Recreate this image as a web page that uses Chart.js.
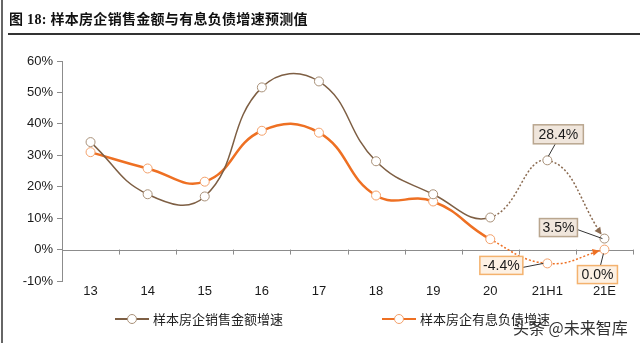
<!DOCTYPE html>
<html>
<head>
<meta charset="utf-8">
<script src="https://cdn.jsdelivr.net/npm/chart.js@4.4.1/dist/chart.umd.min.js"></script>
<style>
  html, body { margin: 0; padding: 0; background: #fff; }
  body { width: 640px; height: 343px; position: relative; overflow: hidden; }
  #wrap { position: absolute; left: 0; top: 0; width: 640px; height: 343px; }
  #title { position: absolute; left: 9px; top: 8px; font: bold 14px "Liberation Serif", "Noto Sans CJK SC", serif; color: #111; white-space: nowrap; letter-spacing: 0.3px; }
  #rule { position: absolute; left: 8px; right: 0; top: 33px; height: 2px; background: #333; }
  #lborder { position: absolute; left: 1px; top: 0; bottom: 0; width: 2px; background: #666; }
  .leg { position: absolute; top: 309px; font: 13px "Noto Sans CJK SC", sans-serif; color: #222; white-space: nowrap; }
  .leg .ln { position: absolute; top: 9px; width: 34px; height: 2px; }
  .leg .dot { position: absolute; top: 5px; width: 8px; height: 8px; border-radius: 50%; background: #fff; border: 1px solid; }
  .leg .tx { position: absolute; left: 38px; top: 0; }
  #wm { position: absolute; left: 513px; top: 315px; font: 16px "Noto Sans CJK SC", sans-serif; color: #333; white-space: nowrap; }
</style>
</head>
<body>
<div id="wrap"><canvas id="c" width="640" height="343"></canvas></div>
<div id="lborder"></div>
<div id="title">图 18: 样本房企销售金额与有息负债增速预测值</div>
<div id="rule"></div>
<div class="leg" id="leg1" style="left:115px;"><span class="ln"></span><span class="dot"></span><span class="tx"></span></div>
<div class="leg" id="leg2" style="left:382px;"><span class="ln"></span><span class="dot"></span><span class="tx"></span></div>
<div id="wm">头条 @未来智库</div>
<script>
// ---- data ----
const categories = ['13', '14', '15', '16', '17', '18', '19', '20', '21H1', '21E'];
const salesGrowth = [34.2, 17.6, 16.9, 51.6, 53.5, 28.1, 17.6, 10.2, 28.4, 3.5];
const debtGrowth  = [31.0, 25.8, 21.6, 37.8, 37.2, 17.2, 15.3, 3.3, -4.4, 0.0];
const seriesNames = ['样本房企销售金额增速', '样本房企有息负债增速'];
const yTicks = [-10, 0, 10, 20, 30, 40, 50, 60];
const forecastStart = 7; // segments from index 7 onward are dotted

const BROWN = '#7e5f44', BROWN_PT = '#a89078';
const ORANGE = '#ee7023', ORANGE_PT = '#f3a06a';

// legend
[['leg1', BROWN, BROWN_PT, seriesNames[0]], ['leg2', ORANGE, ORANGE_PT, seriesNames[1]]].forEach(([id, c, pc, t]) => {
  const el = document.getElementById(id);
  el.querySelector('.ln').style.background = c;
  const d = el.querySelector('.dot'); d.style.borderColor = pc; d.style.left = '12px';
  el.querySelector('.tx').textContent = t;
});

const dotted = (w) => ({
  borderDash: ctx => ctx.p0DataIndex >= forecastStart ? [2, 2] : undefined,
  borderWidth: ctx => ctx.p0DataIndex >= forecastStart ? 1.5 : w
});

// annotation boxes
const annots = [
  {ds: 0, i: 8, dx: 11, dy: -26, w: 50, h: 19, fill: '#f0e6dc', stroke: '#b9a68f', lf: [-3, 9.5], lt: [1, -4]},
  {ds: 0, i: 9, dx: -46, dy: -11, w: 38, h: 18, fill: '#f0e6dc', stroke: '#b9a68f', lf: [19, 2], lt: [-2, 0]},
  {ds: 1, i: 8, dx: -46, dy: 2, w: 43, h: 18, fill: '#fdf1e4', stroke: '#f4b26e', lf: [21.5, 2], lt: [-4, 0]},
  {ds: 1, i: 9, dx: -7, dy: 25, w: 40, h: 18, fill: '#fdf1e4', stroke: '#f4b26e', lf: [3, -9], lt: [-1, 4]},
];

const overlay = {
  id: 'overlay',
  beforeDatasetsDraw(chart) {
    const {ctx, chartArea: a, scales: {x, y}} = chart;
    const y0 = y.getPixelForValue(0);
    ctx.save();
    ctx.strokeStyle = '#8c8c8c';
    ctx.lineWidth = 1;
    ctx.beginPath();
    ctx.moveTo(a.left, Math.round(y0) + 0.5);
    ctx.lineTo(a.right, Math.round(y0) + 0.5);
    const n = categories.length;
    for (let k = 1; k <= n; k++) {
      const xx = Math.round(a.left + k * (a.right - a.left) / n) + 0.5;
      ctx.moveTo(xx, y0);
      ctx.lineTo(xx, y0 + 5);
    }
    ctx.stroke();
    ctx.restore();
  },
  afterDatasetsDraw(chart) {
    const {ctx} = chart;
    ctx.save();
    [[0, '#8a6a50'], [1, ORANGE]].forEach(([di, col]) => {
      const p = chart.getDatasetMeta(di).data[categories.length - 1];
      let vx = p.x - p.cp1x, vy = p.y - p.cp1y;
      const L = Math.hypot(vx, vy) || 1; vx /= L; vy /= L;
      const tx = p.x - vx * 5, ty = p.y - vy * 5;
      const bx = tx - vx * 7, by = ty - vy * 7;
      ctx.fillStyle = col;
      ctx.beginPath();
      ctx.moveTo(tx, ty);
      ctx.lineTo(bx - vy * 3.5, by + vx * 3.5);
      ctx.lineTo(bx + vy * 3.5, by - vx * 3.5);
      ctx.closePath();
      ctx.fill();
    });
    annots.forEach(an => {
      const p = chart.getDatasetMeta(an.ds).data[an.i];
      const val = chart.data.datasets[an.ds].data[an.i];
      const cx = p.x + an.dx, cy = p.y + an.dy;
      ctx.strokeStyle = '#333';
      ctx.lineWidth = 1;
      ctx.beginPath();
      ctx.moveTo(cx + an.lf[0], cy + an.lf[1]);
      ctx.lineTo(p.x + an.lt[0], p.y + an.lt[1]);
      ctx.stroke();
      ctx.fillStyle = an.fill;
      ctx.strokeStyle = an.stroke;
      ctx.lineWidth = 1.5;
      ctx.fillRect(cx - an.w / 2, cy - an.h / 2, an.w, an.h);
      ctx.strokeRect(cx - an.w / 2, cy - an.h / 2, an.w, an.h);
      ctx.fillStyle = '#1a1a1a';
      ctx.font = '14px "Liberation Sans", Arial, sans-serif';
      ctx.textAlign = 'center';
      ctx.textBaseline = 'middle';
      ctx.fillText(val.toFixed(1) + '%', cx, cy + 1);
    });
    ctx.restore();
  }
};

new Chart(document.getElementById('c'), {
  type: 'line',
  data: {
    labels: categories,
    datasets: [
      {
        label: seriesNames[0], data: salesGrowth,
        borderColor: BROWN, borderWidth: 1.5, tension: 0.45,
        pointRadius: 4.5, pointBackgroundColor: '#fff', pointBorderColor: BROWN_PT, pointBorderWidth: 1,
        segment: Object.assign({}, dotted(1.5), {borderColor: ctx => ctx.p0DataIndex >= forecastStart ? '#8a6a50' : undefined})
      },
      {
        label: seriesNames[1], data: debtGrowth,
        borderColor: ORANGE, borderWidth: 2.5, tension: 0.45,
        pointRadius: 4.5, pointBackgroundColor: '#fff', pointBorderColor: ORANGE_PT, pointBorderWidth: 1,
        segment: dotted(2.5)
      }
    ]
  },
  options: {
    responsive: false,
    animation: false,
    events: [],
    layout: {padding: {left: 7, right: 7, top: 61, bottom: 37}},
    plugins: {legend: {display: false}, tooltip: {enabled: false}},
    scales: {
      x: {
        offset: true,
        grid: {display: false, drawTicks: false, tickLength: 0},
        border: {display: false},
        ticks: {color: '#1a1a1a', font: {family: '"Liberation Sans", Arial, sans-serif', size: 13}, padding: 3, maxRotation: 0},
        afterFit: s => { s.height = 25; }
      },
      y: {
        min: -10, max: 60,
        afterBuildTicks: s => { s.ticks = yTicks.map(v => ({value: v})); },
        grid: {drawOnChartArea: false, drawTicks: true, tickLength: 5, color: '#8c8c8c'},
        border: {display: true, color: '#8c8c8c', width: 1},
        ticks: {color: '#1a1a1a', font: {family: '"Liberation Sans", Arial, sans-serif', size: 13}, padding: 4, callback: v => v + '%'},
        afterFit: s => { s.width = 55; }
      }
    }
  },
  plugins: [overlay]
});
</script>
</body>
</html>
